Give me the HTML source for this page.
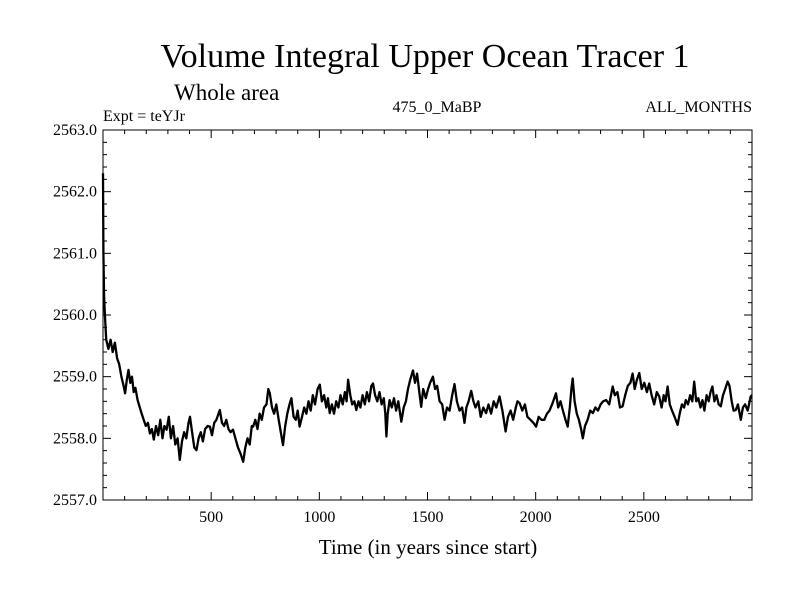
<!DOCTYPE html>
<html><head><meta charset="utf-8"><style>
body{margin:0;background:#fff}
svg text{font-family:"Liberation Serif",serif;fill:#000}
</style></head><body>
<svg id="chart" width="800" height="600" xmlns="http://www.w3.org/2000/svg">
<text x="425" y="67" font-size="34" text-anchor="middle">Volume Integral Upper Ocean Tracer 1</text>
<text x="174" y="100" font-size="23">Whole area</text>
<text x="103" y="121" font-size="16">Expt = teYJr</text>
<text x="437" y="112" font-size="16" text-anchor="middle">475_0_MaBP</text>
<text x="752" y="112" font-size="16" text-anchor="end">ALL_MONTHS</text>
<text x="428" y="554" font-size="21" text-anchor="middle">Time (in years since start)</text>
<g id="ticks"></g>
<path id="series" fill="none" stroke="#000" stroke-width="2.3" stroke-linejoin="round"/>
<rect x="103" y="130" width="649" height="370" fill="none" stroke="#000" stroke-width="1"/>
</svg>
<script>
const xTicks=[500,1000,1500,2000,2500];
const yTicks=[2563,2562,2561,2560,2559,2558,2557];
const years=[0,2,5,9,15,25,35,45,55,65,75,85,95,102,110,118,126,134,142,150,160,170,178,188,198,208,217,226,235,245,255,265,275,284,294,304,314,324,334,345,355,365,375,385,395,402,412,422,432,442,452,462,472,484,494,504,514,524,534,540,550,560,570,580,590,601,612,624,636,648,658,668,678,688,694,704,714,724,734,744,756,764,771,781,791,801,812,822,832,842,852,862,871,881,891,900,909,920,930,940,950,960,970,980,992,1002,1012,1022,1032,1040,1048,1058,1068,1078,1088,1098,1108,1118,1126,1133,1143,1152,1162,1171,1181,1190,1200,1210,1220,1230,1240,1248,1258,1268,1278,1288,1298,1305,1310,1316,1325,1335,1345,1355,1365,1379,1390,1400,1410,1420,1433,1442,1452,1462,1471,1480,1492,1502,1512,1525,1535,1545,1556,1568,1579,1590,1602,1614,1625,1636,1648,1660,1671,1680,1690,1702,1712,1722,1735,1746,1758,1771,1782,1794,1806,1818,1833,1846,1861,1872,1884,1896,1908,1916,1926,1938,1950,1962,1976,1990,2002,2014,2026,2040,2052,2064,2076,2086,2094,2104,2115,2126,2138,2148,2158,2165,2171,2180,2190,2200,2210,2218,2228,2240,2252,2264,2276,2288,2300,2312,2326,2340,2356,2366,2378,2390,2402,2414,2426,2438,2448,2458,2468,2479,2490,2502,2514,2525,2536,2548,2560,2571,2582,2592,2600,2610,2620,2630,2642,2656,2666,2676,2686,2694,2704,2714,2724,2733,2742,2752,2762,2771,2780,2790,2800,2808,2817,2826,2836,2846,2856,2866,2876,2887,2896,2906,2915,2925,2935,2948,2958,2968,2980,2994,3000];
const values=[2562.3,2561.0,2560.3,2560.0,2559.6,2559.45,2559.6,2559.4,2559.55,2559.3,2559.2,2559.0,2558.85,2558.73,2558.95,2559.11,2558.9,2559.0,2558.75,2558.82,2558.62,2558.5,2558.41,2558.3,2558.2,2558.25,2558.08,2558.15,2557.98,2558.2,2558.05,2558.3,2558.0,2558.2,2558.14,2558.35,2558.0,2558.2,2557.9,2558.0,2557.65,2557.95,2558.1,2558.0,2558.25,2558.35,2558.1,2557.85,2557.81,2558.0,2558.1,2557.95,2558.15,2558.2,2558.19,2558.05,2558.25,2558.3,2558.4,2558.46,2558.25,2558.2,2558.3,2558.15,2558.1,2558.14,2558.0,2557.85,2557.75,2557.62,2557.85,2558.0,2557.9,2558.2,2558.19,2558.3,2558.15,2558.4,2558.3,2558.5,2558.55,2558.8,2558.73,2558.5,2558.4,2558.55,2558.3,2558.1,2557.89,2558.2,2558.4,2558.55,2558.65,2558.35,2558.3,2558.45,2558.19,2558.35,2558.5,2558.4,2558.6,2558.45,2558.7,2558.55,2558.8,2558.87,2558.6,2558.7,2558.5,2558.65,2558.41,2558.55,2558.4,2558.6,2558.5,2558.7,2558.55,2558.75,2558.6,2558.95,2558.7,2558.55,2558.6,2558.46,2558.6,2558.5,2558.7,2558.55,2558.75,2558.6,2558.85,2558.89,2558.7,2558.6,2558.75,2558.55,2558.65,2558.4,2558.03,2558.4,2558.62,2558.5,2558.65,2558.45,2558.6,2558.27,2558.5,2558.6,2558.8,2558.95,2559.1,2558.9,2559.05,2558.75,2558.51,2558.8,2558.65,2558.79,2558.9,2559.0,2558.8,2558.85,2558.6,2558.55,2558.3,2558.5,2558.45,2558.7,2558.88,2558.6,2558.45,2558.5,2558.25,2558.5,2558.6,2558.77,2558.6,2558.5,2558.6,2558.35,2558.5,2558.41,2558.55,2558.4,2558.6,2558.5,2558.68,2558.45,2558.11,2558.35,2558.45,2558.3,2558.5,2558.6,2558.57,2558.45,2558.55,2558.35,2558.3,2558.25,2558.19,2558.35,2558.3,2558.3,2558.4,2558.45,2558.55,2558.65,2558.73,2558.5,2558.6,2558.45,2558.3,2558.19,2558.5,2558.8,2558.97,2558.6,2558.4,2558.3,2558.15,2558.0,2558.2,2558.3,2558.45,2558.41,2558.5,2558.45,2558.55,2558.6,2558.62,2558.55,2558.84,2558.7,2558.75,2558.5,2558.52,2558.7,2558.85,2558.9,2559.05,2558.8,2558.95,2559.06,2558.8,2558.9,2558.75,2558.89,2558.7,2558.55,2558.75,2558.68,2558.5,2558.7,2558.6,2558.84,2558.55,2558.45,2558.35,2558.22,2558.4,2558.55,2558.5,2558.62,2558.55,2558.7,2558.6,2558.92,2558.6,2558.65,2558.5,2558.62,2558.45,2558.7,2558.6,2558.75,2558.84,2558.6,2558.7,2558.55,2558.52,2558.7,2558.8,2558.92,2558.85,2558.6,2558.45,2558.46,2558.55,2558.3,2558.5,2558.55,2558.45,2558.68,2558.7];
const X0=103,X1=752,Y0=130,Y1=500,XMIN=0,XMAX=3000,YMIN=2557,YMAX=2563;
const sx=v=>X0+(v-XMIN)/(XMAX-XMIN)*(X1-X0);
const sy=v=>Y1-(v-YMIN)/(YMAX-YMIN)*(Y1-Y0);
const NS="http://www.w3.org/2000/svg";
const g=document.getElementById('ticks');
function line(x1,y1,x2,y2){const l=document.createElementNS(NS,'line');l.setAttribute('x1',x1);l.setAttribute('y1',y1);l.setAttribute('x2',x2);l.setAttribute('y2',y2);l.setAttribute('stroke','#000');l.setAttribute('stroke-width','1');


g.appendChild(l);}
for(let t=100;t<XMAX;t+=100){const x=sx(t);const len=(t%500===0)?8:4;line(x,Y1,x,Y1-len);line(x,Y0,x,Y0+len);}
for(let i=1;i<30;i++){const v=YMIN+i*0.2;const y=sy(v);const len=(i%5===0)?8:4;line(X0,y,X0+len,y);line(X1,y,X1-len,y);}
xTicks.forEach(t=>{const tx=document.createElementNS(NS,'text');tx.setAttribute('x',sx(t));tx.setAttribute('y',Y1+22);tx.setAttribute('font-size','16');tx.setAttribute('text-anchor','middle');tx.textContent=t;


g.appendChild(tx);});
yTicks.forEach(t=>{const tx=document.createElementNS(NS,'text');tx.setAttribute('x',X0-6);tx.setAttribute('y',sy(t)+5);tx.setAttribute('font-size','16');tx.setAttribute('text-anchor','end');tx.textContent=t.toFixed(1);


g.appendChild(tx);});
document.getElementById('series').setAttribute('d',years.map((yr,i)=>(i?'L':'M')+sx(yr).toFixed(1)+' '+sy(values[i]).toFixed(1)).join(' '));
</script>
</body></html>
